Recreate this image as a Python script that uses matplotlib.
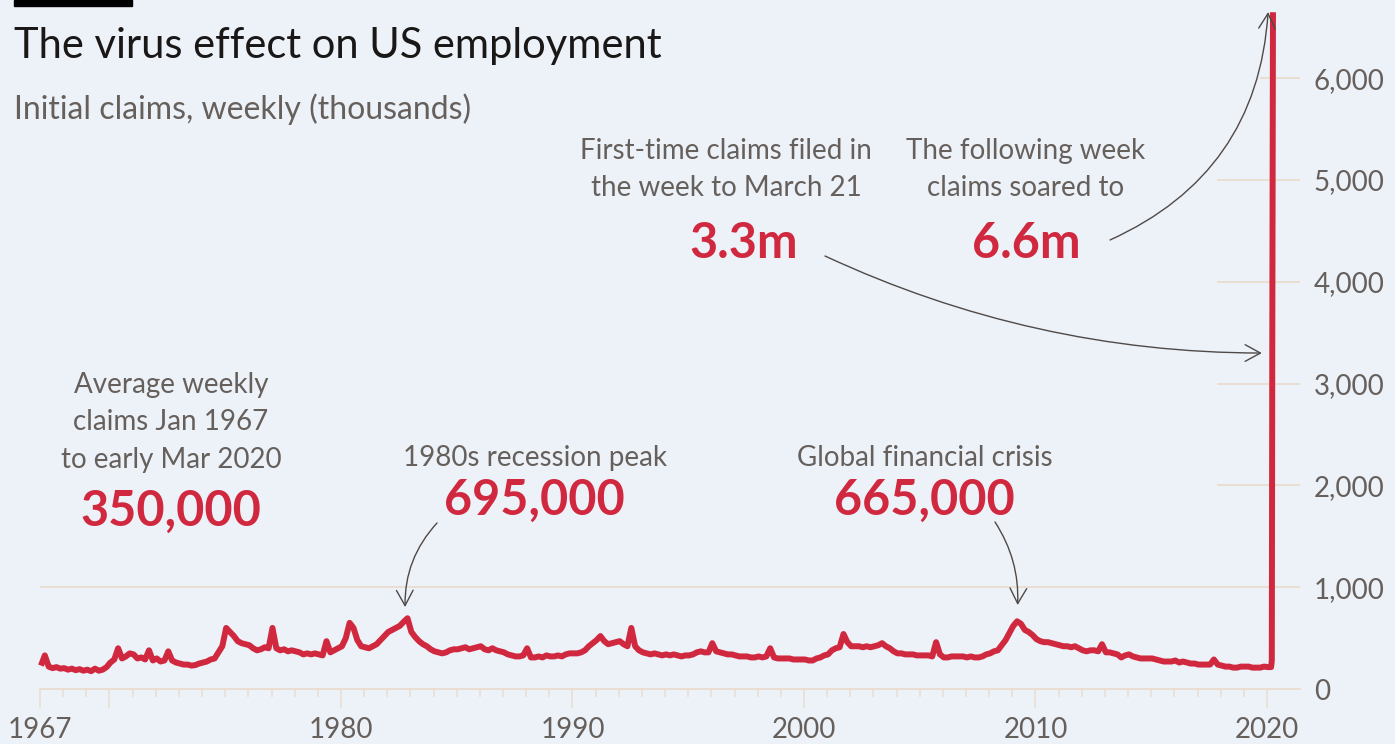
import matplotlib.pyplot as plt
import matplotlib.patches as patches
import matplotlib as mpl

# Colours
RED = "#d0293f"
GREY = "#66605c"
DARK = "#1a1817"
ARROW = "#4f4a47"
BG = "#edf1f8"
GRID = "#eaddd0"

mpl.rcParams["font.family"] = ["Lato", "DejaVu Sans"]

# Initial jobless claims, thousands, every two months
# (Jan, Mar, May, Jul, Sep, Nov) for each year 1967-2019
years = list(range(1967, 2020))
months = [0, 2, 4, 6, 8, 10]
claims = [
    [230, 330, 220, 205, 215, 200],  # 1967
    [205, 190, 200, 185, 195, 180],  # 1968
    [190, 175, 200, 180, 190, 215],  # 1969
    [260, 290, 400, 300, 320, 350],  # 1970
    [340, 300, 310, 290, 380, 280],  # 1971
    [300, 270, 280, 370, 280, 260],  # 1972
    [250, 240, 240, 230, 235, 250],  # 1973
    [260, 270, 290, 300, 360, 420],  # 1974
    [600, 560, 520, 470, 450, 440],  # 1975
    [430, 400, 380, 390, 410, 400],  # 1976
    [600, 400, 380, 390, 370, 380],  # 1977
    [370, 360, 340, 350, 340, 350],  # 1978
    [340, 330, 470, 360, 380, 400],  # 1979
    [420, 500, 650, 600, 480, 420],  # 1980
    [410, 400, 420, 440, 480, 520],  # 1981
    [560, 580, 600, 620, 660, 695],  # 1982
    [560, 510, 470, 440, 420, 390],  # 1983
    [370, 360, 350, 360, 380, 390],  # 1984
    [390, 400, 410, 390, 400, 410],  # 1985
    [420, 390, 380, 400, 380, 370],  # 1986
    [360, 340, 330, 320, 320, 330],  # 1987
    [400, 310, 310, 320, 310, 330],  # 1988
    [320, 320, 330, 320, 340, 350],  # 1989
    [350, 350, 360, 380, 420, 450],  # 1990
    [480, 520, 470, 440, 450, 460],  # 1991
    [470, 440, 420, 600, 420, 380],  # 1992
    [360, 350, 340, 350, 340, 330],  # 1993
    [340, 330, 340, 330, 320, 330],  # 1994
    [330, 340, 360, 370, 360, 360],  # 1995
    [450, 370, 360, 350, 340, 340],  # 1996
    [330, 320, 320, 320, 310, 310],  # 1997
    [320, 310, 320, 400, 310, 300],  # 1998
    [300, 300, 300, 290, 290, 290],  # 1999
    [290, 280, 280, 300, 310, 330],  # 2000
    [340, 380, 400, 410, 540, 460],  # 2001
    [420, 420, 420, 410, 420, 410],  # 2002
    [420, 430, 450, 420, 400, 370],  # 2003
    [350, 350, 340, 340, 340, 330],  # 2004
    [330, 330, 330, 320, 460, 340],  # 2005
    [310, 310, 320, 320, 320, 320],  # 2006
    [310, 320, 310, 310, 320, 340],  # 2007
    [350, 370, 380, 430, 480, 550],  # 2008
    [620, 665, 640, 580, 560, 530],  # 2009
    [490, 470, 460, 460, 450, 440],  # 2010
    [430, 420, 420, 410, 420, 400],  # 2011
    [380, 370, 380, 380, 370, 440],  # 2012
    [360, 360, 350, 340, 310, 330],  # 2013
    [340, 320, 310, 300, 300, 300],  # 2014
    [300, 290, 280, 270, 270, 270],  # 2015
    [280, 260, 270, 260, 250, 250],  # 2016
    [240, 240, 240, 240, 290, 240],  # 2017
    [230, 220, 220, 210, 210, 220],  # 2018
    [220, 220, 210, 210, 210, 220],  # 2019
]
# 2020: January, then the weeks to March 7, 14, 21 and 28
dates_2020 = [2020.04, 2020.18, 2020.21, 2020.23, 2020.26]
claims_2020 = [215, 215, 282, 3307, 6648]

x_major = [1967, 1970, 1980, 1990, 2000, 2010, 2020]
x_labels = ["1967", "", "1980", "1990", "2000", "2010", "2020"]
y_ticks = [0, 1000, 2000, 3000, 4000, 5000, 6000]
y_labels = ["0", "1,000", "2,000", "3,000", "4,000", "5,000", "6,000"]

# Build the series
dates = []
values = []
for yr, row in zip(years, claims):
    for m, v in zip(months, row):
        dates.append(yr + (m + 0.5) / 12)
        values.append(v)
dates += dates_2020
values += claims_2020

W, H = 1395, 744
fig = plt.figure(figsize=(W / 100, H / 100), dpi=100)
fig.set_facecolor(BG)


# helper: pixel position (from top-left) to figure fraction
def fp(px, py):
    return px / W, 1 - py / H


ax = fig.add_axes([40 / W, (H - 689) / H, 1260 / W, 689 / H])
ax.set_facecolor(BG)
ax.set_xlim(1967, 1967 + 1260 / 23.15)
ax.set_ylim(0, 689 * 1000 / 101.8)

for s in ["top", "left", "right"]:
    ax.spines[s].set_visible(False)
ax.spines["bottom"].set_color(GRID)
ax.spines["bottom"].set_linewidth(1.3)

# Gridlines (upper ones only show near the spike)
ax.hlines(1000, 1967, 2021.43, color=GRID, lw=1.3, zorder=1)
ax.hlines([2000, 3000, 4000, 5000], 2017.84, 2021.43, color=GRID, lw=1.3, zorder=1)
ax.hlines(6000, 2019.7, 2021.43, color=GRID, lw=1.3, zorder=1)

ax.set_xticks(x_major)
ax.set_xticklabels(x_labels)
ax.set_xticks(range(1967, 2021), minor=True)
ax.tick_params(axis="x", which="major", length=14, width=1.1, color=GRID,
               labelsize=20, labelcolor=GREY, pad=6)
ax.tick_params(axis="x", which="minor", length=6, width=1.1, color=GRID)

ax.yaxis.tick_right()
ax.set_yticks(y_ticks)
ax.set_yticklabels(y_labels)
ax.tick_params(axis="y", length=0, labelsize=20, labelcolor=GREY, pad=10)
for lbl in ax.get_yticklabels():
    lbl.set_va("center_baseline")

ax.plot(dates, values, color=RED, lw=4.3, solid_joinstyle="round",
        solid_capstyle="butt", clip_on=False, zorder=3)

# FT-style header bar, title and subtitle
fig.add_artist(patches.Rectangle(fp(14, 6), 118 / W, 6 / H, color="black",
                                 transform=fig.transFigure))
fig.text(*fp(14, 58), "The virus effect on US employment", fontsize=30,
         color=DARK, ha="left", va="baseline")
fig.text(*fp(14, 119), "Initial claims, weekly (thousands)", fontsize=23,
         color=GREY, ha="left", va="baseline")

# Annotation texts
ann_size = 20
big_size = 35


def note(px, py, lines, gap=37.5):
    for i, t in enumerate(lines):
        fig.text(*fp(px, py + i * gap), t, fontsize=ann_size, color=GREY,
                 ha="center", va="center")


note(171, 385, ["Average weekly", "claims Jan 1967", "to early Mar 2020"])
fig.text(*fp(171, 511), "350,000", fontsize=big_size, color=RED,
         weight="bold", ha="center", va="center")

note(535, 458, ["1980s recession peak"])
fig.text(*fp(534, 500), "695,000", fontsize=big_size, color=RED,
         weight="bold", ha="center", va="center")

note(925, 458, ["Global financial crisis"])
fig.text(*fp(924, 500), "665,000", fontsize=big_size, color=RED,
         weight="bold", ha="center", va="center")

note(726, 151, ["First-time claims filed in", "the week to March 21"])
fig.text(*fp(744, 244), "3.3m", fontsize=big_size, color=RED,
         weight="bold", ha="center", va="center")

note(1026, 151, ["The following week", "claims soared to"])
fig.text(*fp(1026, 244), "6.6m", fontsize=big_size, color=RED,
         weight="bold", ha="center", va="center")

# Curved arrows: start in figure coords, end in data coords
arrow = dict(arrowstyle="->,head_length=0.55,head_width=0.3", color=ARROW,
             lw=1.0, shrinkA=0, shrinkB=0, mutation_scale=20)


def pointer(start_px, end_xy, rad):
    ax.annotate("", xy=end_xy, xycoords="data", xytext=fp(*start_px),
                textcoords="figure fraction",
                arrowprops=dict(arrow, connectionstyle=f"arc3,rad={rad}"))


pointer((437, 523), (1982.77, 805), 0.2)
pointer((995, 522), (2009.23, 825), -0.16)
pointer((825, 256), (2019.78, 3300), 0.11)
pointer((1110, 240), (2020.05, 6650), 0.3)

fig.savefig("out.png", dpi=100, facecolor=BG)
